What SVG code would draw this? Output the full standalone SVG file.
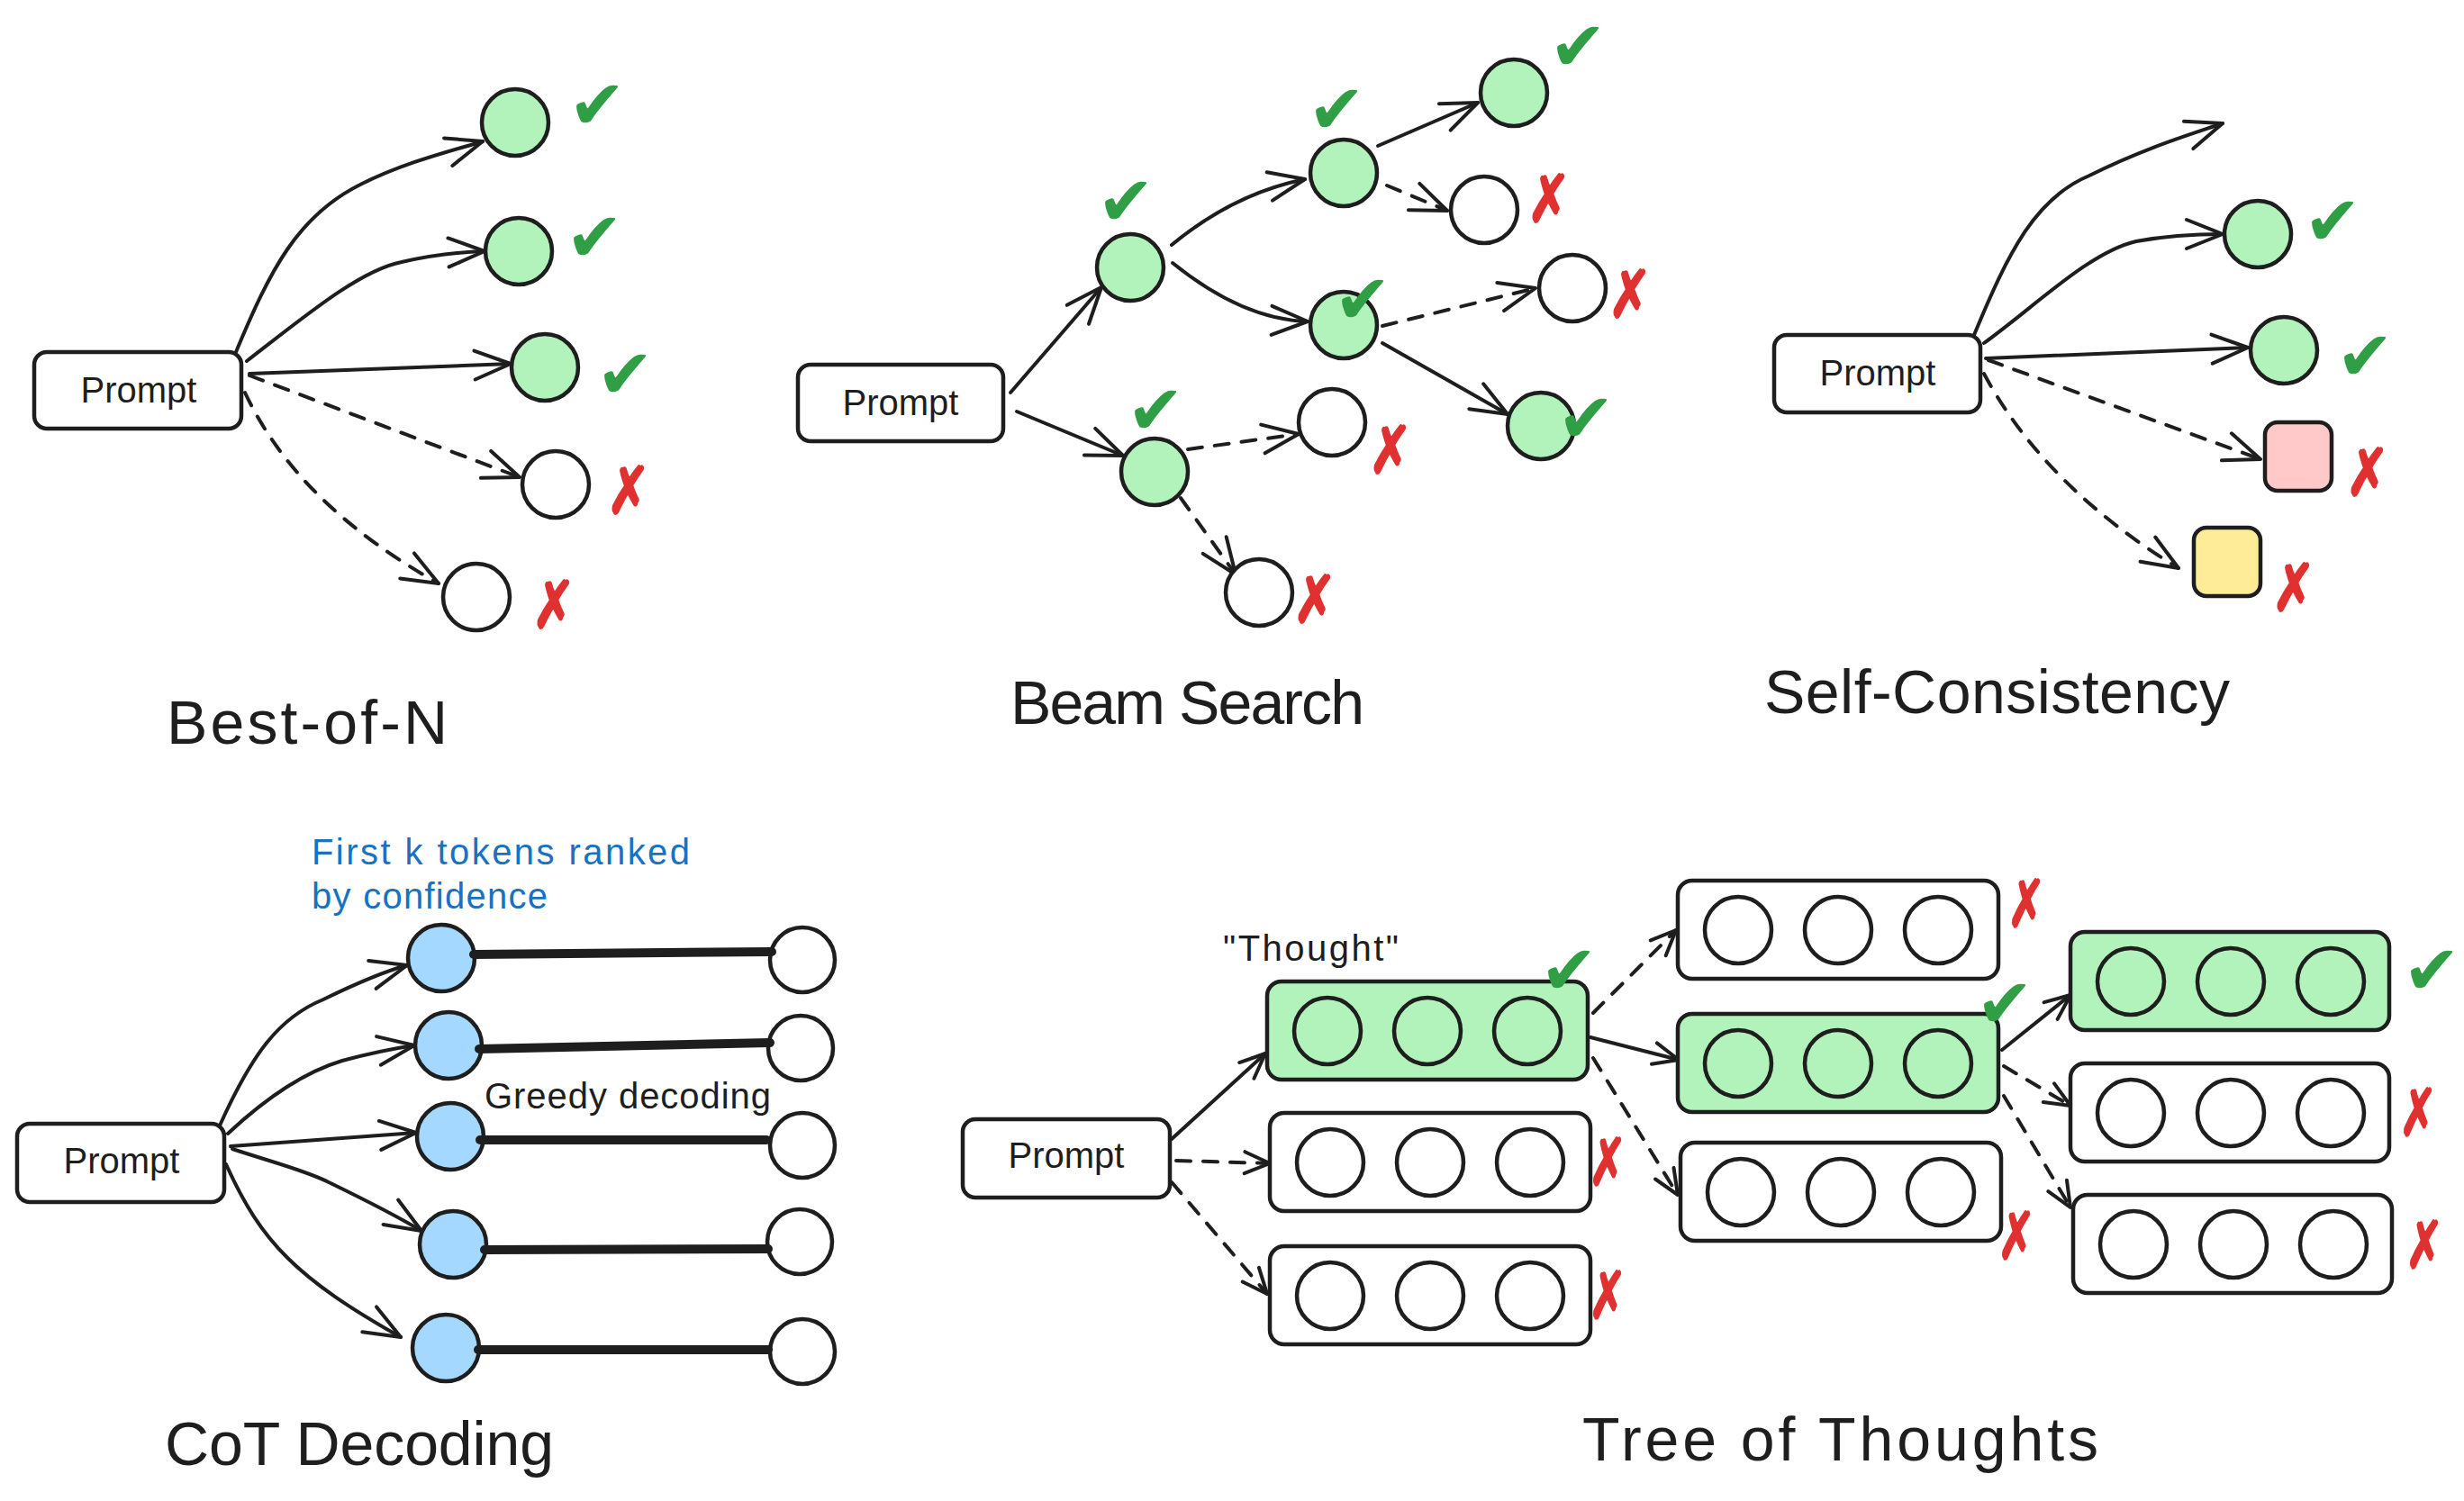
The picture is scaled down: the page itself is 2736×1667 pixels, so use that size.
<svg xmlns="http://www.w3.org/2000/svg" width="2736" height="1667" viewBox="0 0 2736 1667">
<style>
.bg{fill:#ffffff}
.box{fill:#ffffff;stroke:#1e1e1e;stroke-width:4.5}
.n{fill:#ffffff;stroke:#1e1e1e;stroke-width:4.5}
.g{fill:#b2f2bb}
.b{fill:#a5d8ff}
.pk{fill:#ffc9c9}
.yl{fill:#ffec99}
.e{fill:none;stroke:#1e1e1e;stroke-width:4;stroke-linecap:round;stroke-linejoin:round}
.d{stroke-dasharray:16 14}
.thick{fill:none;stroke:#1e1e1e;stroke-width:10;stroke-linecap:round}
.lbl{font-family:"Liberation Sans",Arial,sans-serif;font-size:40px;fill:#1e1e1e}
.title{font-family:"Liberation Sans",Arial,sans-serif;font-size:68px;fill:#1e1e1e}
.blue{fill:#1971c2}
.ok{font-family:"DejaVu Sans",sans-serif;font-size:76px;fill:#2f9e44;text-anchor:middle}
.no{font-family:"DejaVu Sans",sans-serif;font-size:72px;fill:#e03131;stroke:#e03131;stroke-width:2.5;text-anchor:middle}
.mid{text-anchor:middle}
</style>
<defs>
<marker id="arr" viewBox="-50 -25 60 50" refX="0" refY="0" markerWidth="60" markerHeight="50" markerUnits="userSpaceOnUse" orient="auto" overflow="visible">
<path d="M-40,-16 L0,0 L-40,16" fill="none" stroke="#1e1e1e" stroke-width="4" stroke-linecap="round" stroke-linejoin="round" stroke-dasharray="none"/>
</marker>
<marker id="arrS" viewBox="-50 -25 60 50" refX="0" refY="0" markerWidth="60" markerHeight="50" markerUnits="userSpaceOnUse" orient="auto" overflow="visible">
<path d="M-28,-12 L0,0 L-28,12" fill="none" stroke="#1e1e1e" stroke-width="4" stroke-linecap="round" stroke-linejoin="round" stroke-dasharray="none"/>
</marker>
</defs>
<rect class="bg" x="0" y="0" width="2736" height="1667"/>

<!-- ================= Best-of-N ================= -->
<g id="best-of-n">
<g id="bon-connectors">
<path class="e" marker-end="url(#arr)" d="M262,391 C300,300 330,240 400,205 C450,180 500,168 536,157"/>
<path class="e" marker-end="url(#arr)" d="M274,401 C340,350 400,300 446,291 C480,283 510,280 538,279"/>
<path class="e" marker-end="url(#arr)" d="M277,415 L567,404"/>
<path class="e d" marker-end="url(#arr)" d="M277,417 L577,530"/>
<path class="e d" marker-end="url(#arr)" d="M272,436 Q330,560 487,648"/>
</g>
<g id="bon-prompt"><rect class="box" x="38" y="391" width="230" height="85" rx="14"/><text class="lbl mid" x="154" y="447">Prompt</text></g>
<g id="bon-n1"><circle class="n g" cx="572" cy="136" r="37"/><text class="ok" x="663" y="143">✔</text></g>
<g id="bon-n2"><circle class="n g" cx="576" cy="279" r="37"/><text class="ok" x="660" y="290">✔</text></g>
<g id="bon-n3"><circle class="n g" cx="605" cy="408" r="37"/><text class="ok" x="694" y="442">✔</text></g>
<g id="bon-n4"><circle class="n" cx="617" cy="538" r="37"/><text class="no" transform="translate(698,570) scale(0.8,1)">✗</text></g>
<g id="bon-n5"><circle class="n" cx="529" cy="663" r="37"/><text class="no" transform="translate(615,697) scale(0.8,1)">✗</text></g>
<text class="title" x="185" y="826" textLength="312">Best-of-N</text>
</g>

<!-- ================= Beam Search ================= -->
<g id="beam-search">
<g id="bs-connectors">
<path class="e" marker-end="url(#arr)" d="M1122,436 L1223,319"/>
<path class="e" marker-end="url(#arr)" d="M1129,457 L1247,506"/>
<path class="e" marker-end="url(#arr)" d="M1301,272 Q1370,215 1449,199"/>
<path class="e" marker-end="url(#arr)" d="M1302,292 Q1380,355 1452,357"/>
<path class="e" marker-end="url(#arr)" d="M1530,162 L1641,114"/>
<path class="e d" marker-end="url(#arr)" d="M1540,206 L1607,234"/>
<path class="e d" marker-end="url(#arr)" d="M1535,362 L1705,320"/>
<path class="e" marker-end="url(#arr)" d="M1535,381 L1674,460"/>
<path class="e d" marker-end="url(#arr)" d="M1319,499 L1442,482"/>
<path class="e d" marker-end="url(#arr)" d="M1311,553 L1372,638"/>
</g>
<g id="bs-prompt"><rect class="box" x="886" y="405" width="228" height="85" rx="14"/><text class="lbl mid" x="1000" y="461">Prompt</text></g>
<g id="bs-a"><circle class="n g" cx="1255" cy="297" r="37"/><text class="ok" x="1250" y="250">✔</text></g>
<g id="bs-b"><circle class="n g" cx="1282" cy="524" r="37"/><text class="ok" x="1283" y="482">✔</text></g>
<g id="bs-c"><circle class="n g" cx="1492" cy="192" r="37"/><text class="ok" x="1484" y="148">✔</text></g>
<g id="bs-e"><circle class="n g" cx="1681" cy="103" r="37"/><text class="ok" x="1752" y="78">✔</text></g>
<g id="bs-f"><circle class="n" cx="1648" cy="233" r="37"/><text class="no" transform="translate(1720,246) scale(0.8,1)">✗</text></g>
<g id="bs-d"><circle class="n g" cx="1492" cy="361" r="37"/><text class="ok" x="1513" y="359">✔</text></g>
<g id="bs-g"><circle class="n" cx="1746" cy="320" r="37"/><text class="no" transform="translate(1810,352) scale(0.8,1)">✗</text></g>
<g id="bs-h"><circle class="n g" cx="1711" cy="473" r="37"/><text class="ok" x="1761" y="491">✔</text></g>
<g id="bs-i"><circle class="n" cx="1479" cy="469" r="37"/><text class="no" transform="translate(1544,525) scale(0.8,1)">✗</text></g>
<g id="bs-j"><circle class="n" cx="1398" cy="658" r="37"/><text class="no" transform="translate(1460,691) scale(0.8,1)">✗</text></g>
<text class="title" x="1122" y="804" textLength="393">Beam Search</text>
</g>

<!-- ================= Self-Consistency ================= -->
<g id="self-consistency">
<g id="sc-connectors">
<path class="e" marker-end="url(#arr)" d="M2192,372 C2230,280 2260,220 2320,195 C2380,165 2430,150 2468,137"/>
<path class="e" marker-end="url(#arr)" d="M2203,381 C2260,340 2320,280 2372,268 C2410,261 2440,260 2468,260"/>
<path class="e" marker-end="url(#arr)" d="M2205,398 L2496,386"/>
<path class="e d" marker-end="url(#arr)" d="M2208,400 L2510,510"/>
<path class="e d" marker-end="url(#arr)" d="M2203,415 Q2270,540 2419,631"/>
</g>
<g id="sc-prompt"><rect class="box" x="1970" y="372" width="229" height="86" rx="14"/><text class="lbl mid" x="2085" y="428">Prompt</text></g>
<g id="sc-n1"><circle class="n g" cx="2507" cy="260" r="37"/><text class="ok" x="2590" y="272">✔</text></g>
<g id="sc-n2"><circle class="n g" cx="2536" cy="389" r="37"/><text class="ok" x="2626" y="422">✔</text></g>
<g id="sc-n3"><rect class="n pk" x="2515" y="469" width="74" height="76" rx="14"/><text class="no" transform="translate(2629,550) scale(0.8,1)">✗</text></g>
<g id="sc-n4"><rect class="n yl" x="2436" y="586" width="74" height="76" rx="14"/><text class="no" transform="translate(2547,678) scale(0.8,1)">✗</text></g>
<text class="title" x="1959" y="792" textLength="517">Self-Consistency</text>
</g>

<!-- ================= CoT Decoding ================= -->
<g id="cot-decoding">
<g id="cot-connectors">
<path class="e" marker-end="url(#arr)" d="M244,1250 C280,1170 310,1130 359,1110 C400,1090 430,1078 452,1072"/>
<path class="e" marker-end="url(#arr)" d="M253,1259 C300,1215 340,1190 380,1178 C410,1170 440,1164 460,1161"/>
<path class="e" marker-end="url(#arr)" d="M256,1273 L462,1258"/>
<path class="e" marker-end="url(#arr)" d="M258,1276 C300,1290 340,1300 365,1313 C400,1330 440,1350 468,1367"/>
<path class="e" marker-end="url(#arr)" d="M251,1293 C290,1380 330,1420 445,1485"/>
</g>
<g id="cot-prompt"><rect class="box" x="19" y="1248" width="230" height="87" rx="14"/><text class="lbl mid" x="135" y="1303">Prompt</text></g>
<g id="cot-b1"><circle class="n b" cx="490" cy="1064" r="37"/></g>
<g id="cot-b2"><circle class="n b" cx="498" cy="1161" r="37"/></g>
<g id="cot-b3"><circle class="n b" cx="500" cy="1262" r="37"/></g>
<g id="cot-b4"><circle class="n b" cx="503" cy="1382" r="37"/></g>
<g id="cot-b5"><circle class="n b" cx="495" cy="1497" r="37"/></g>
<g id="cot-w1"><circle class="n" cx="891" cy="1066" r="36"/></g>
<g id="cot-w2"><circle class="n" cx="889" cy="1164" r="36"/></g>
<g id="cot-w3"><circle class="n" cx="891" cy="1272" r="36"/></g>
<g id="cot-w4"><circle class="n" cx="888" cy="1379" r="36"/></g>
<g id="cot-w5"><circle class="n" cx="891" cy="1501" r="36"/></g>
<g id="cot-greedy">
<path class="thick" d="M526,1060 L857,1057"/>
<path class="thick" d="M532,1165 L855,1158"/>
<path class="thick" d="M533,1266 L851,1266"/>
<path class="thick" d="M538,1388 L853,1387"/>
<path class="thick" d="M531,1499 L853,1499"/>
</g>
<text class="lbl blue" x="346" y="960" textLength="420">First k tokens ranked</text>
<text class="lbl blue" x="346" y="1009" textLength="262">by confidence</text>
<text class="lbl" x="538" y="1231" textLength="318">Greedy decoding</text>
<text class="title" x="183" y="1627" textLength="432">CoT Decoding</text>
</g>

<!-- ================= Tree of Thoughts ================= -->
<g id="tree-of-thoughts">
<g id="tot-connectors">
<path class="e" marker-end="url(#arrS)" d="M1301,1265 L1405,1170"/>
<path class="e d" marker-end="url(#arrS)" d="M1306,1289 L1410,1292"/>
<path class="e d" marker-end="url(#arrS)" d="M1301,1313 L1407,1437"/>
<path class="e" marker-end="url(#arrS)" d="M1766,1152 L1864,1177"/>
<path class="e d" marker-end="url(#arrS)" d="M1769,1125 L1861,1033"/>
<path class="e d" marker-end="url(#arrS)" d="M1769,1175 L1863,1327"/>
<path class="e" marker-end="url(#arrS)" d="M2223,1166 L2299,1105"/>
<path class="e d" marker-end="url(#arrS)" d="M2225,1184 L2299,1228"/>
<path class="e d" marker-end="url(#arrS)" d="M2225,1217 L2299,1341"/>
</g>
<g id="tot-prompt"><rect class="box" x="1069" y="1243" width="230" height="87" rx="14"/><text class="lbl mid" x="1184" y="1297">Prompt</text></g>
<text class="lbl" x="1358" y="1067" textLength="195">"Thought"</text>
<g id="tot-t1">
<rect class="box g" x="1407" y="1090" width="356" height="109" rx="16"/>
<circle class="n g" cx="1474" cy="1145" r="37"/><circle class="n g" cx="1585" cy="1145" r="37"/><circle class="n g" cx="1696" cy="1145" r="37"/>
<text class="ok" x="1742" y="1104">✔</text>
</g>
<g id="tot-t2">
<rect class="box" x="1410" y="1236" width="356" height="109" rx="16"/>
<circle class="n" cx="1477" cy="1291" r="37"/><circle class="n" cx="1588" cy="1291" r="37"/><circle class="n" cx="1699" cy="1291" r="37"/>
<text class="no" transform="translate(1785,1316) scale(0.7,1)">✗</text>
</g>
<g id="tot-t3">
<rect class="box" x="1410" y="1384" width="356" height="109" rx="16"/>
<circle class="n" cx="1477" cy="1439" r="37"/><circle class="n" cx="1588" cy="1439" r="37"/><circle class="n" cx="1699" cy="1439" r="37"/>
<text class="no" transform="translate(1785,1464) scale(0.7,1)">✗</text>
</g>
<g id="tot-t4">
<rect class="box" x="1863" y="978" width="356" height="109" rx="16"/>
<circle class="n" cx="1930" cy="1033" r="37"/><circle class="n" cx="2041" cy="1033" r="37"/><circle class="n" cx="2152" cy="1033" r="37"/>
<text class="no" transform="translate(2250,1029) scale(0.7,1)">✗</text>
</g>
<g id="tot-t5">
<rect class="box g" x="1863" y="1126" width="356" height="109" rx="16"/>
<circle class="n g" cx="1930" cy="1181" r="37"/><circle class="n g" cx="2041" cy="1181" r="37"/><circle class="n g" cx="2152" cy="1181" r="37"/>
<text class="ok" x="2226" y="1141">✔</text>
</g>
<g id="tot-t6">
<rect class="box" x="1866" y="1269" width="356" height="109" rx="16"/>
<circle class="n" cx="1933" cy="1324" r="37"/><circle class="n" cx="2044" cy="1324" r="37"/><circle class="n" cx="2155" cy="1324" r="37"/>
<text class="no" transform="translate(2239,1398) scale(0.7,1)">✗</text>
</g>
<g id="tot-t7">
<rect class="box g" x="2299" y="1035" width="354" height="109" rx="16"/>
<circle class="n g" cx="2366" cy="1090" r="37"/><circle class="n g" cx="2477" cy="1090" r="37"/><circle class="n g" cx="2588" cy="1090" r="37"/>
<text class="ok" x="2700" y="1104">✔</text>
</g>
<g id="tot-t8">
<rect class="box" x="2299" y="1181" width="354" height="109" rx="16"/>
<circle class="n" cx="2366" cy="1236" r="37"/><circle class="n" cx="2477" cy="1236" r="37"/><circle class="n" cx="2588" cy="1236" r="37"/>
<text class="no" transform="translate(2685,1261) scale(0.7,1)">✗</text>
</g>
<g id="tot-t9">
<rect class="box" x="2302" y="1327" width="354" height="109" rx="16"/>
<circle class="n" cx="2369" cy="1382" r="37"/><circle class="n" cx="2480" cy="1382" r="37"/><circle class="n" cx="2591" cy="1382" r="37"/>
<text class="no" transform="translate(2692,1408) scale(0.7,1)">✗</text>
</g>
<text class="title" x="1757" y="1622" textLength="573">Tree of Thoughts</text>
</g>
</svg>
